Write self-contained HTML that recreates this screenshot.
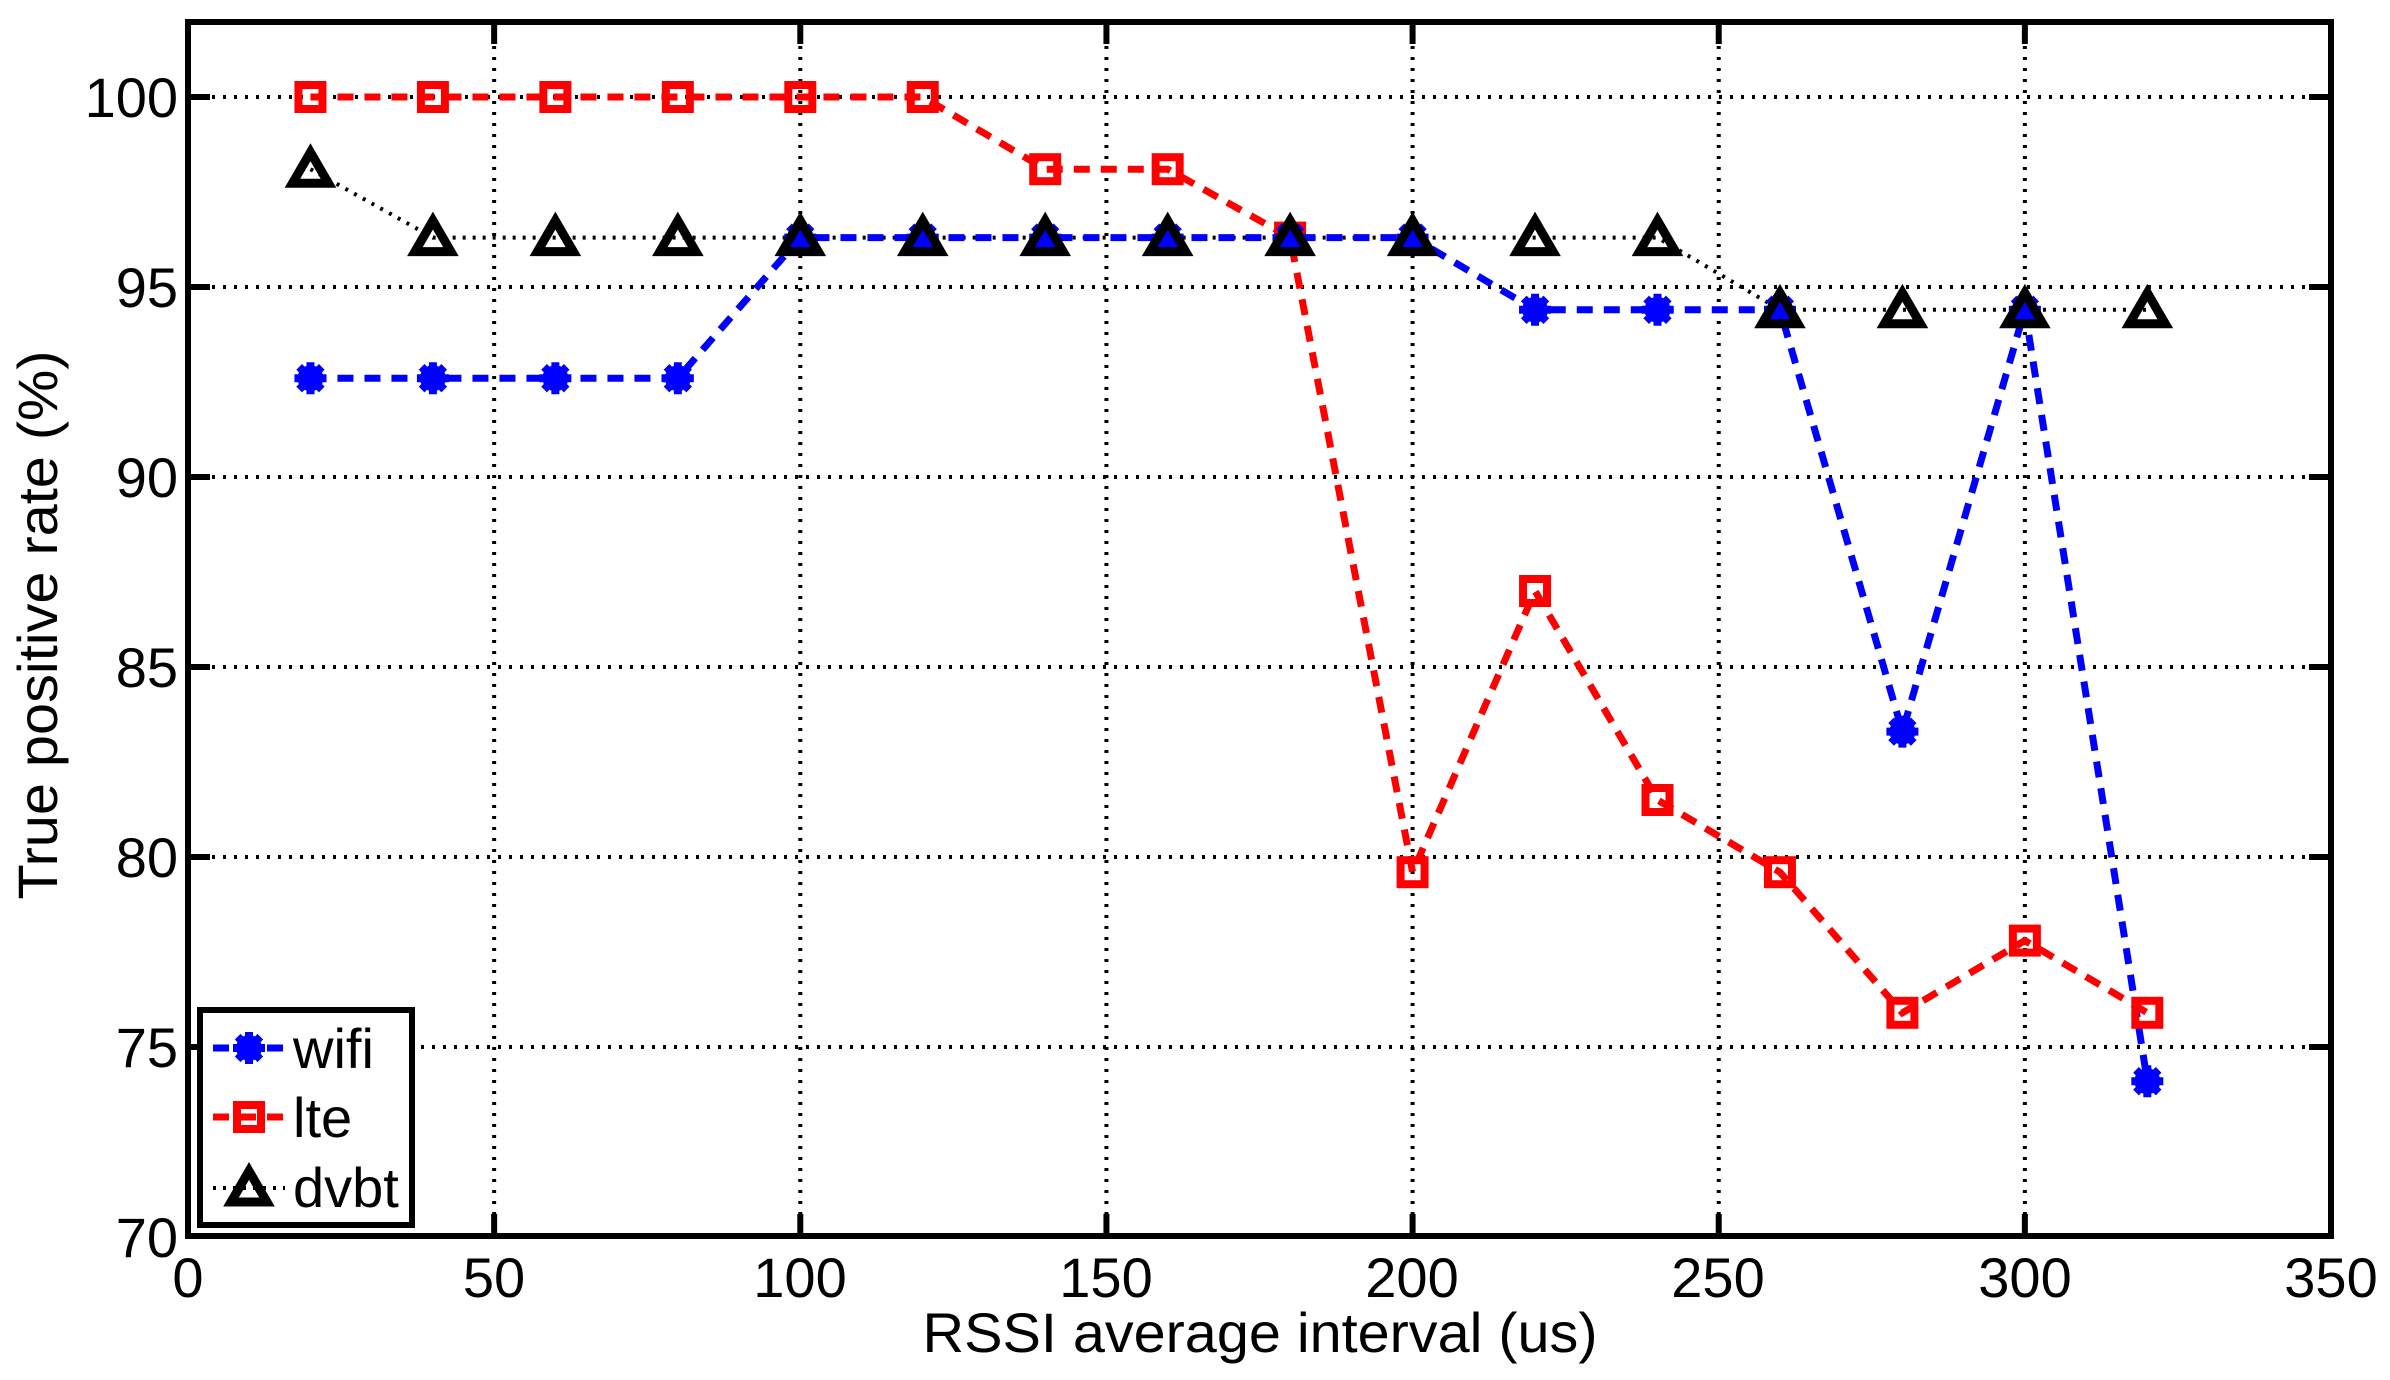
<!DOCTYPE html>
<html><head><meta charset="utf-8"><style>html,body{margin:0;padding:0;background:#fff}svg{display:block}</style></head>
<body>
<svg id="s" width="2390" height="1380" viewBox="0 0 2390 1380" xmlns="http://www.w3.org/2000/svg" font-family="Liberation Sans, Arial, sans-serif">
<rect width="2390" height="1380" fill="#fff"/>
<g id="grid" stroke="#000" stroke-width="4" stroke-dasharray="3 8" fill="none"></g>
<g id="series"></g>
<rect x="188" y="22" width="2143" height="1214" fill="none" stroke="#000" stroke-width="6"/>
<g id="ticks" stroke="#000" stroke-width="6"></g>
<g font-size="56" fill="#000" text-anchor="end">
<text x="178" y="117">100</text><text x="178" y="307">95</text><text x="178" y="497">90</text>
<text x="178" y="687">85</text><text x="178" y="877">80</text><text x="178" y="1067">75</text><text x="178" y="1257">70</text>
</g>
<g font-size="56" fill="#000" text-anchor="middle">
<text x="188" y="1297">0</text><text x="494" y="1297">50</text><text x="800" y="1297">100</text>
<text x="1106" y="1297">150</text><text x="1412" y="1297">200</text><text x="1718" y="1297">250</text>
<text x="2025" y="1297">300</text><text x="2331" y="1297">350</text>
<text x="1260" y="1352" textLength="675" lengthAdjust="spacingAndGlyphs">RSSI average interval (us)</text>
<text transform="translate(57,625) rotate(-90)" textLength="549" lengthAdjust="spacingAndGlyphs">True positive rate (%)</text>
</g>
<rect x="200" y="1010" width="212" height="215" fill="#fff" stroke="#000" stroke-width="6"/>
<g id="leg"></g>
<g font-size="56" fill="#000">
<text x="293" y="1068">wifi</text><text x="293" y="1137">lte</text><text x="293" y="1207">dvbt</text>
</g>
</svg>
<script>
const NS="http://www.w3.org/2000/svg";
function el(p,t,a){const e=document.createElementNS(NS,t);for(const k in a)e.setAttribute(k,a[k]);p.appendChild(e);return e;}
const X=v=>188+v*6.1229, Y=v=>97+(100-v)*38;
const g=document.getElementById('grid'), tk=document.getElementById('ticks');
for(let v=50;v<350;v+=50){el(g,'line',{x1:X(v),y1:24,x2:X(v),y2:1234});}
for(let v=75;v<=100;v+=5){el(g,'line',{x1:190,y1:Y(v),x2:2329,y2:Y(v)});}
for(let v=50;v<350;v+=50){el(tk,'line',{x1:X(v),y1:1236,x2:X(v),y2:1214});el(tk,'line',{x1:X(v),y1:22,x2:X(v),y2:44});}
for(let v=75;v<=100;v+=5){el(tk,'line',{x1:188,y1:Y(v),x2:210,y2:Y(v)});el(tk,'line',{x1:2331,y1:Y(v),x2:2309,y2:Y(v)});}
const xs=[20,40,60,80,100,120,140,160,180,200,220,240,260,280,300,320];
const wifi=[92.6,92.6,92.6,92.6,96.3,96.3,96.3,96.3,96.3,96.3,94.4,94.4,94.4,83.3,94.4,74.1];
const lte=[100,100,100,100,100,100,98.1,98.1,96.3,79.6,87.0,81.5,79.6,75.9,77.8,75.9];
const dv=[98.1,96.3,96.3,96.3,96.3,96.3,96.3,96.3,96.3,96.3,96.3,96.3,94.4,94.4,94.4,94.4];
const S=document.getElementById('series'), L=document.getElementById('leg');
function star(p,x,y,c){el(p,'circle',{cx:x,cy:y,r:13,fill:c});for(let i=0;i<4;i++){const a=i*Math.PI/4;el(p,'line',{x1:x-16*Math.cos(a),y1:y-16*Math.sin(a),x2:x+16*Math.cos(a),y2:y+16*Math.sin(a),stroke:c,'stroke-width':8});}}
function sq(p,x,y){el(p,'rect',{x:x-12,y:y-12,width:24,height:24,fill:'none',stroke:'#f00','stroke-width':8});}
function tri(p,x,y){el(p,'polygon',{points:`${x},${y-17} ${x+18},${y+14} ${x-18},${y+14}`,fill:'none',stroke:'#000','stroke-width':9,'stroke-linejoin':'miter'});}
function pts(d){return xs.map((x,i)=>X(x)+','+Y(d[i])).join(' ');}
el(S,'polyline',{points:pts(dv),fill:'none',stroke:'#000','stroke-width':4,'stroke-dasharray':'3 7'});
el(S,'polyline',{points:pts(lte),fill:'none',stroke:'#f00','stroke-width':7,'stroke-dasharray':'16 11'});
el(S,'polyline',{points:pts(wifi),fill:'none',stroke:'#00f','stroke-width':7,'stroke-dasharray':'16 11'});
xs.forEach((x,i)=>{sq(S,X(x),Y(lte[i]));});
xs.forEach((x,i)=>{star(S,X(x),Y(wifi[i]),'#00f');});
xs.forEach((x,i)=>{tri(S,X(x),Y(dv[i]));});
el(L,'line',{x1:213,y1:1048,x2:285,y2:1048,stroke:'#00f','stroke-width':7,'stroke-dasharray':'16 11'});star(L,249,1048,'#00f');
el(L,'line',{x1:213,y1:1117,x2:285,y2:1117,stroke:'#f00','stroke-width':7,'stroke-dasharray':'16 11'});sq(L,249,1117);
el(L,'line',{x1:213,y1:1188,x2:285,y2:1188,stroke:'#000','stroke-width':4,'stroke-dasharray':'3 7'});tri(L,249,1188);
</script>
</body></html>
